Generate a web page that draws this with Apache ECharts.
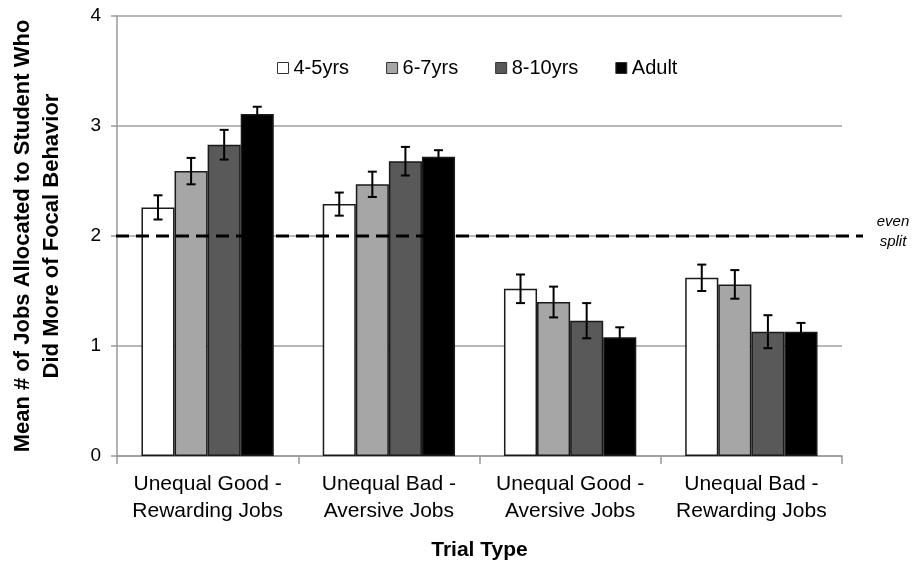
<!DOCTYPE html>
<html><head><meta charset="utf-8">
<script src="https://cdn.jsdelivr.net/npm/echarts@6/dist/echarts.min.js"></script>
<style>html,body{margin:0;padding:0;background:#fff}#c{width:915px;height:575px}</style>
</head><body><div id="c"></div>
<script>
var categories = ['Unequal Good -\nRewarding Jobs', 'Unequal Bad -\nAversive Jobs', 'Unequal Good -\nAversive Jobs', 'Unequal Bad -\nRewarding Jobs'];
var seriesNames = ['4-5yrs', '6-7yrs', '8-10yrs', 'Adult'];
var age4_5 = [2.26, 2.29, 1.52, 1.62];
var age6_7 = [2.59, 2.47, 1.40, 1.56];
var age8_10 = [2.83, 2.68, 1.23, 1.13];
var adult = [3.11, 2.72, 1.08, 1.13];
var err4_5 = [0.11, 0.105, 0.13, 0.12];
var err6_7 = [0.12, 0.115, 0.14, 0.13];
var err8_10 = [0.135, 0.13, 0.16, 0.15];
var errAdult = [0.065, 0.06, 0.09, 0.08];
var yTicks = [0, 1, 2, 3, 4];
var evenSplit = 2;

var values = [age4_5, age6_7, age8_10, adult];
var errors = [err4_5, err6_7, err8_10, errAdult];
var colors = ['#ffffff', '#a6a6a6', '#595959', '#000000'];
var FONT = '"Liberation Sans", Arial, sans-serif';
var GAP = 0.27;

var series = [];
values.forEach(function (vals, k) {
  series.push({
    name: seriesNames[k], type: 'bar', xAxisIndex: 0, yAxisIndex: 0,
    data: vals, barGap: '0%', barCategoryGap: (GAP * 100) + '%',
    itemStyle: { color: colors[k], borderColor: '#1a1a1a', borderWidth: 1.5 },
    z: 3
  });
});
values.forEach(function (vals, k) {
  series.push({
    type: 'custom', xAxisIndex: 0, yAxisIndex: 0, z: 5, silent: true,
    data: vals.map(function (v, i) { return [i, v, errors[k][i]]; }),
    encode: { x: 0, y: 1 },
    renderItem: function (params, api) {
      var i = api.value(0), m = api.value(1), e = api.value(2);
      var band = api.size([1, 0])[0];
      var bw = band * (1 - GAP) / 4;
      var c = api.coord([i, m]);
      var x = c[0] + (k - 1.5) * bw;
      var top = api.coord([i, m + e])[1];
      var bot = api.coord([i, m - e])[1];
      var cap = 4.5;
      var st = { stroke: '#000', lineWidth: 2 };
      return { type: 'group', children: [
        { type: 'line', shape: { x1: x, y1: top, x2: x, y2: bot }, style: st },
        { type: 'line', shape: { x1: x - cap, y1: top, x2: x + cap, y2: top }, style: st },
        { type: 'line', shape: { x1: x - cap, y1: bot, x2: x + cap, y2: bot }, style: st }
      ]};
    }
  });
});
series.push({
  type: 'line', xAxisIndex: 1, yAxisIndex: 1, silent: true, symbol: 'none', z: 4,
  data: [[0, evenSplit], [1, evenSplit]],
  lineStyle: { color: '#000', width: 3, type: [13, 7] },
  endLabel: { show: true, formatter: 'even\nsplit', fontFamily: FONT, fontStyle: 'italic', fontSize: 15, color: '#000', lineHeight: 20, align: 'center', distance: 30, offset: [0, -4] }
});

var chart = echarts.init(document.getElementById('c'), null, { renderer: 'canvas' });
chart.setOption({
  backgroundColor: '#fff',
  animation: false,
  textStyle: { fontFamily: FONT },
  legend: {
    data: seriesNames, left: 272, top: 53, itemWidth: 11, itemHeight: 11, itemGap: 37,
    icon: 'rect',
    textStyle: { fontSize: 20, color: '#000', fontFamily: FONT },
    itemStyle: { borderColor: '#333', borderWidth: 1 }
  },
  grid: [
    { left: 116, right: 73, top: 16, bottom: 119, containLabel: false },
    { left: 116, right: 52, top: 16, bottom: 119, containLabel: false }
  ],
  xAxis: [{
    type: 'category', gridIndex: 0, data: categories,
    axisLine: { lineStyle: { color: '#999', width: 1.5 } },
    axisTick: { show: true, interval: 0, length: 8, lineStyle: { color: '#999', width: 1.5 } },
    axisLabel: { interval: 0, fontSize: 21, color: '#000', fontFamily: FONT, margin: 15, lineHeight: 27 },
    name: 'Trial Type', nameLocation: 'middle', nameGap: 84,
    nameTextStyle: { fontSize: 21, fontWeight: 'bold', color: '#000', fontFamily: FONT, verticalAlign: 'top' }
  }, {
    type: 'value', gridIndex: 1, min: 0, max: 1, show: false
  }],
  yAxis: [{
    type: 'value', gridIndex: 0, min: yTicks[0], max: yTicks[yTicks.length - 1], interval: 1,
    axisLine: { show: true, lineStyle: { color: '#999', width: 1.5 } },
    axisTick: { show: true, length: 6, lineStyle: { color: '#999', width: 1.5 } },
    axisLabel: { fontSize: 19, color: '#000', fontFamily: FONT, margin: 16 },
    splitLine: { show: true, lineStyle: { color: '#a0a0a0', width: 1.5 } },
    name: 'Mean # of Jobs Allocated to Student Who\nDid More of Focal Behavior',
    nameLocation: 'middle', nameRotate: 90, nameGap: 51,
    nameTextStyle: { fontSize: 22, fontWeight: 'bold', color: '#000', fontFamily: FONT, lineHeight: 29 }
  }, {
    type: 'value', gridIndex: 1, min: 0, max: 4, show: false
  }],
  series: series
});
</script></body></html>
